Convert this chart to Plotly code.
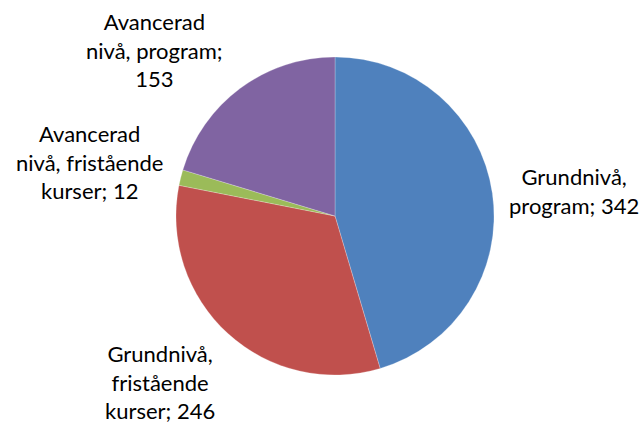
import plotly.graph_objects as go

labels = ["Grundnivå, program", "Grundnivå, fristående kurser",
          "Avancerad nivå, fristående kurser", "Avancerad nivå, program"]
values = [342, 246, 12, 153]
colors = ["#4F81BD", "#C0504D", "#9BBB59", "#8064A2"]
label_text = ["Grundnivå,<br>program; 342", "Grundnivå,<br>fristående<br>kurser; 246",
              "Avancerad<br>nivå, fristående<br>kurser; 12", "Avancerad<br>nivå, program;<br>153"]
label_pos = [(574, 191), (160, 382), (89, 162), (154, 50)]

W, H = 644, 427
fig = go.Figure(go.Pie(
    labels=labels, values=values, sort=False, direction="clockwise", rotation=0,
    marker=dict(colors=colors, line=dict(color="rgba(255,255,255,0.4)", width=0.6)),
    textinfo="none", hoverinfo="label+value", showlegend=False,
    domain=dict(x=[176 / W, 494 / W], y=[(H - 375) / H, (H - 57) / H]),
))
for t, (x, y) in zip(label_text, label_pos):
    fig.add_annotation(x=x / W, y=1 - y / H, xref="paper", yref="paper", text=t,
                       showarrow=False, xanchor="center", yanchor="middle", align="center",
                       font=dict(family="Lato", size=22, color="#000000"))
fig.update_layout(width=W, height=H, margin=dict(l=0, r=0, t=0, b=0),
                  paper_bgcolor="white", plot_bgcolor="white")
fig.write_html("out.html", config={"displayModeBar": False})

with open("out.html", encoding="utf-8") as f:
    html = f.read()
html = html.replace("<body>", '<body style="margin:0;overflow:hidden">', 1)
with open("out.html", "w", encoding="utf-8") as f:
    f.write(html)
